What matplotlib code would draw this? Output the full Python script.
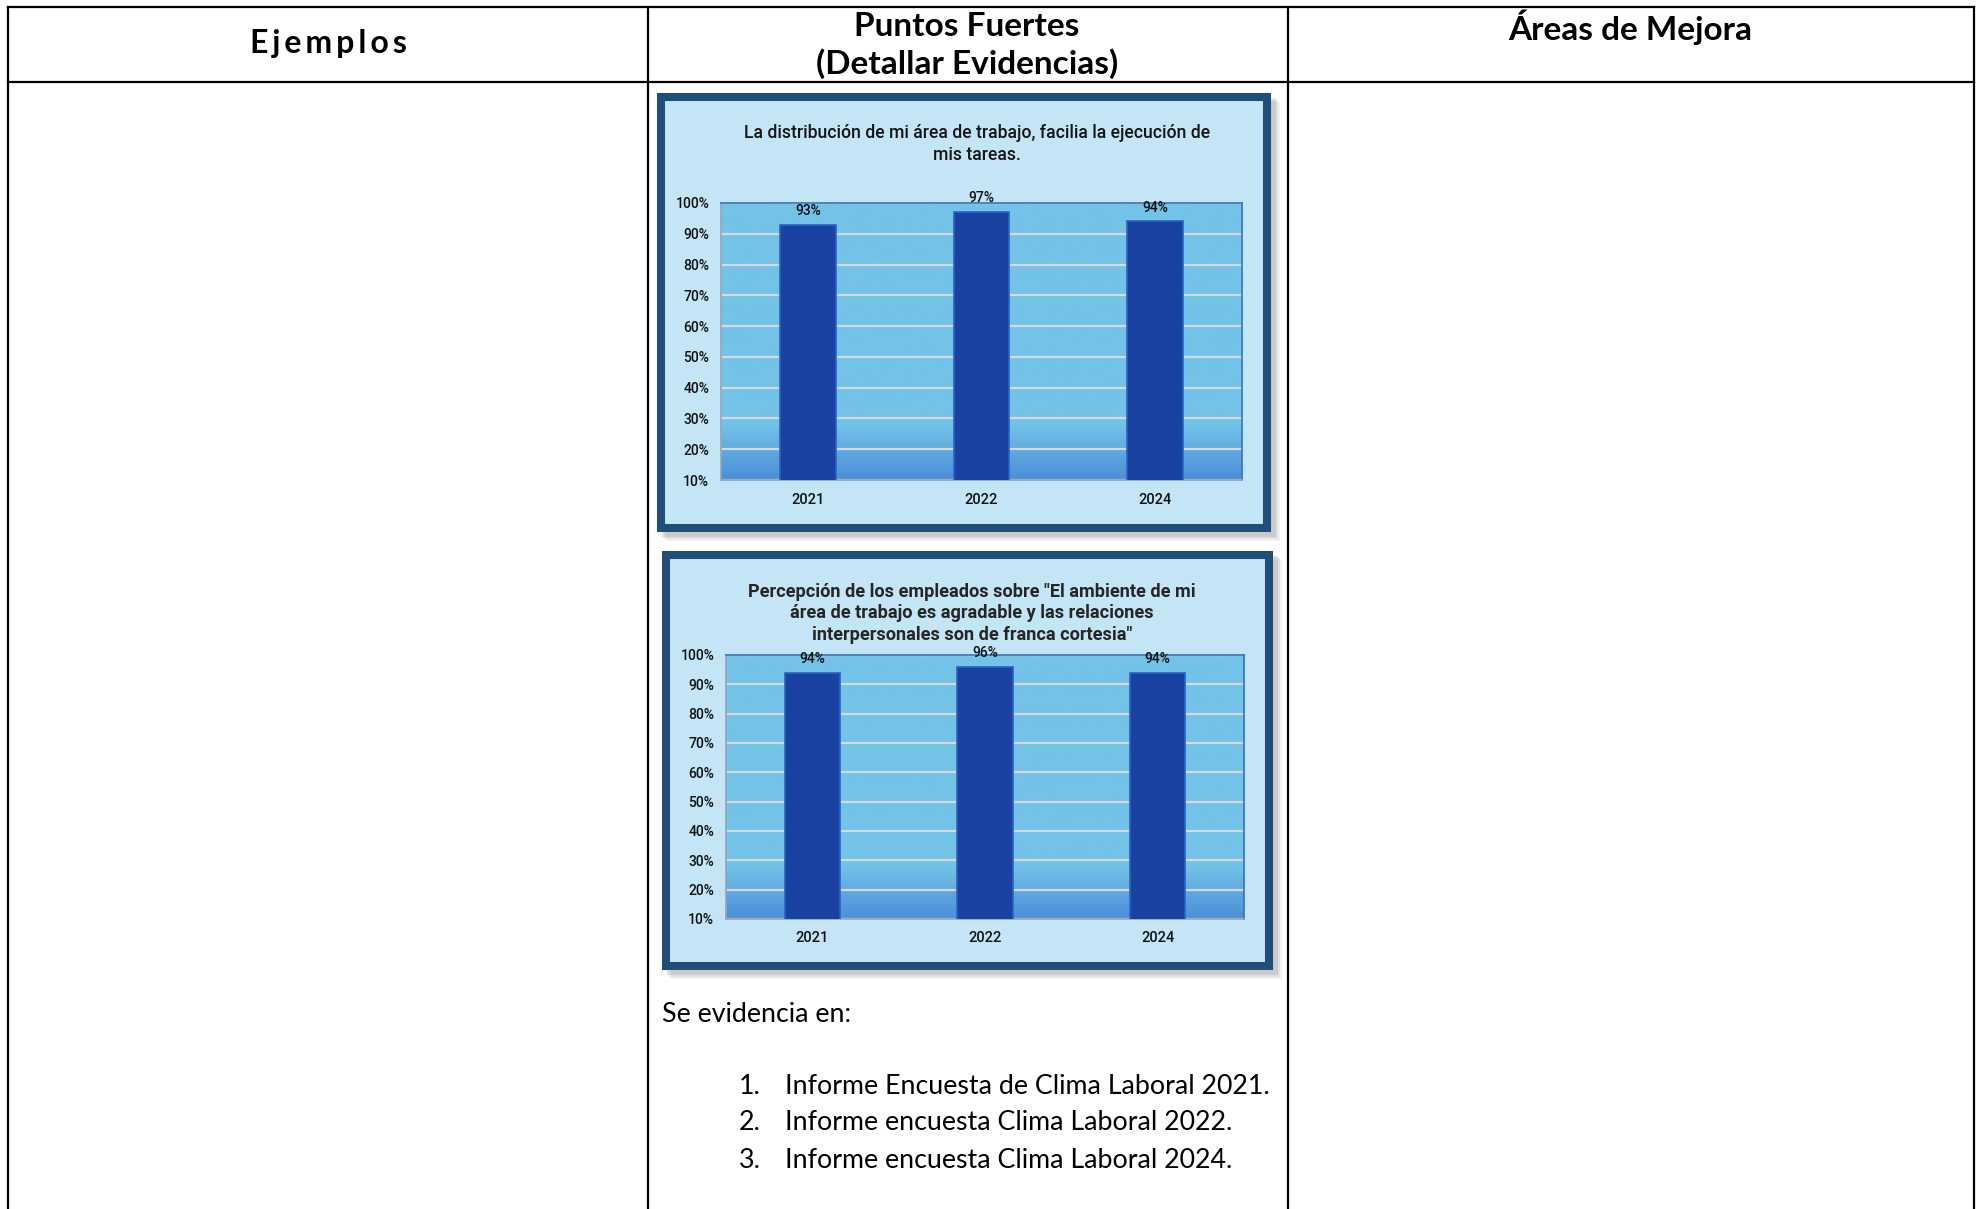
import numpy as np
import matplotlib
matplotlib.use('Agg')
import matplotlib.pyplot as plt
from matplotlib.patches import Rectangle
from matplotlib.colors import to_rgb

# Datos (encuesta de clima laboral)
years = ['2021', '2022', '2024']
distribucion = [93, 97, 94]
ambiente = [94, 96, 94]
yticks = [10, 20, 30, 40, 50, 60, 70, 80, 90, 100]

title_1 = ['La distribución de mi área de trabajo, facilia la ejecución de',
           'mis tareas.']
title_2 = ['Percepción de los empleados sobre "El ambiente de mi',
           'área de trabajo es agradable y las relaciones',
           'interpersonales son de franca cortesia"']

headers = ['Ejemplos', 'Puntos Fuertes', '(Detallar Evidencias)', 'Áreas de Mejora']
evidencias = ['Informe Encuesta de Clima Laboral 2021.',
              'Informe encuesta Clima Laboral 2022.',
              'Informe encuesta Clima Laboral 2024.']

W, H = 1977, 1209
CHART_FONT = ['Roboto', 'DejaVu Sans']
DOC_FONT = ['Lato', 'DejaVu Sans']

fig = plt.figure(figsize=(W / 100, H / 100), dpi=100)
fig.patch.set_facecolor('white')


def box(x0, y0, x1, y1):
    # pixel box (y from top) -> figure fraction
    return [x0 / W, 1 - y1 / H, (x1 - x0) / W, (y1 - y0) / H]


bg = fig.add_axes([0, 0, 1, 1])
bg.set_xlim(0, W)
bg.set_ylim(H, 0)
bg.axis('off')

# tabla
lw = 1.6
for x in [8, 648, 1288, 1974]:
    bg.plot([x, x], [7, H + 5], color='black', lw=lw, solid_capstyle='projecting')
for y in [7, 82]:
    bg.plot([8, 1974], [y, y], color='black', lw=lw, solid_capstyle='projecting')

HFS = 24
bg.text(328, 44, '\u2009'.join(headers[0]), ha='center', va='center', fontsize=23,
        fontweight='bold', family=DOC_FONT)
bg.text(967, 27, headers[1], ha='center', va='center', fontsize=HFS,
        fontweight='bold', family=DOC_FONT)
bg.text(967, 64, headers[2], ha='center', va='center', fontsize=HFS,
        fontweight='bold', family=DOC_FONT)
bg.text(1630, 27, headers[3], ha='center', va='center', fontsize=HFS,
        fontweight='bold', family=DOC_FONT)


def frame(x0, y0, x1, y1):
    # sombra
    for k, a in zip([9, 7, 5], [0.10, 0.15, 0.22]):
        bg.add_patch(Rectangle((x0 + k, y0 + k), x1 - x0, y1 - y0,
                               fc='#7f7f7f', ec='none', alpha=a))
    bg.add_patch(Rectangle((x0 + 4, y0 + 4), x1 - x0 - 8, y1 - y0 - 8,
                           fc='#C3E5F5', ec='#1F4E79', lw=5.8))


frame(657, 93, 1271, 532)
frame(662, 551, 1273, 970)

top_c = np.array(to_rgb('#73C3E8'))
bot_c = np.array(to_rgb('#4A8ED8'))
t = np.linspace(0, 1, 256)[:, None]
mix = np.clip(t / 0.2, 0, 1)
grad = (bot_c * (1 - mix) + top_c * mix)[:, None, :]


def chart(rect, values):
    ax = fig.add_axes(box(*rect))
    ax.set_zorder(2)
    x = np.arange(len(values))
    ax.imshow(grad, extent=[-0.5, 2.5, 10, 100], aspect='auto',
              origin='lower', zorder=-1)
    ax.bar(x, values, width=0.32, color='#1942A3', edgecolor='#2B62C4',
           lw=1.2, zorder=3)
    for i, v in enumerate(values):
        ax.annotate(f'{v}%', (i, v), xytext=(0, 5), textcoords='offset points',
                    ha='center', va='bottom', fontsize=10, family=CHART_FONT,
                    fontweight='medium', color='#111111')
    ax.set_xlim(-0.5, 2.5)
    ax.set_ylim(10, 100)
    ax.set_yticks(yticks)
    ax.set_yticklabels([f'{v}%' for v in yticks], fontsize=10,
                       family=CHART_FONT, fontweight='medium', color='#111111')
    ax.set_xticks(x)
    ax.set_xticklabels(years, fontsize=10.5, family=CHART_FONT,
                       fontweight='medium', color='#111111')
    ax.tick_params(length=0)
    ax.tick_params(axis='y', pad=8.5)
    ax.tick_params(axis='x', pad=9)
    ax.yaxis.grid(True, color='#D5D9DD', lw=1.6)
    ax.set_axisbelow(True)
    for s in ax.spines.values():
        s.set_color('#3473BA')
        s.set_linewidth(1.2)
    ax.spines['left'].set_color('#8FA6BB')
    ax.spines['bottom'].set_color('#8FA6BB')
    return ax


chart((721, 203, 1242, 480), distribucion)
chart((726, 655, 1244, 919), ambiente)

for y, line in zip([133, 155], title_1):
    bg.text(977, y, line, ha='center', va='center', fontsize=12.7,
            family=CHART_FONT, fontweight='medium', color='#151515')
for y, line in zip([592, 613, 635], title_2):
    bg.text(972, y, line, ha='center', va='center', fontsize=13.1,
            fontweight='bold', family=CHART_FONT, color='#252525')

# texto de evidencias
FS = 19.3
bg.text(662, 1014, 'Se evidencia en:', ha='left', va='center', fontsize=FS,
        family=DOC_FONT)
for i, (y, item) in enumerate(zip([1087, 1123, 1160], evidencias)):
    bg.text(739, y, f'{i + 1}.', ha='left', va='center', fontsize=FS,
            family=DOC_FONT)
    bg.text(785, y, item, ha='left', va='center', fontsize=FS,
            family=DOC_FONT)

fig.savefig('out.png', dpi=100)
